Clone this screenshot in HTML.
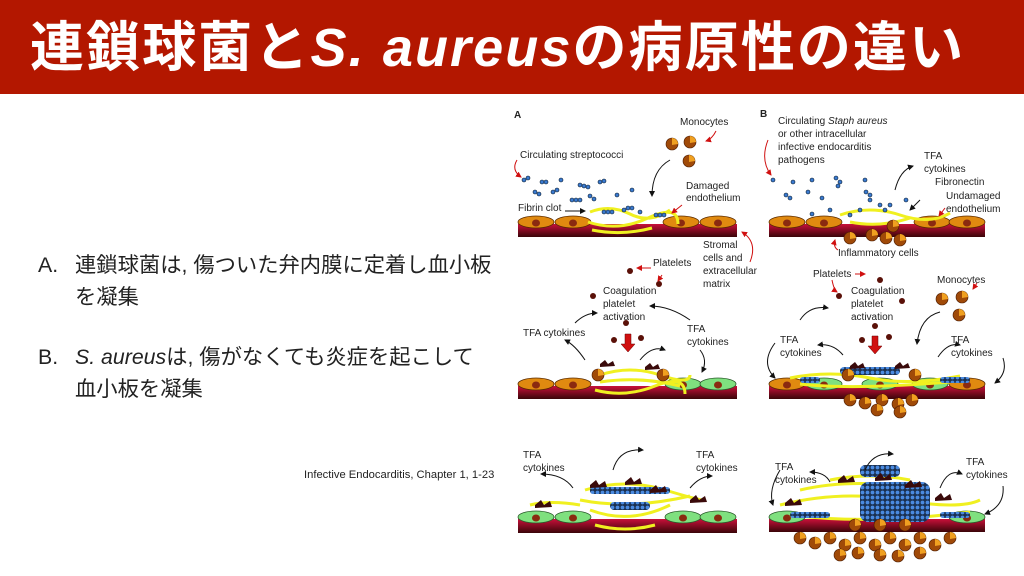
<!DOCTYPE html>
<html><head><meta charset="utf-8">
<style>
html,body{margin:0;padding:0;background:#fff;}
body{width:1024px;height:576px;position:relative;overflow:hidden;font-family:"Liberation Sans","Noto Sans CJK JP",sans-serif;}
#bar{position:absolute;left:0;top:0;width:1024px;height:94px;background:#b31700;}
#title{position:absolute;left:30px;top:8px;width:990px;height:80px;color:#fff;font-weight:bold;font-size:54px;line-height:80px;white-space:nowrap;letter-spacing:2.1px;}
.t{position:absolute;font-size:21.3px;color:#222;line-height:32px;white-space:nowrap;}
#cite{position:absolute;left:304px;top:469px;font-size:11.2px;color:#222;white-space:nowrap;}
svg{position:absolute;left:0;top:0;}
svg text{font-family:"Liberation Sans",sans-serif;font-size:10px;fill:#222;}
</style></head><body>
<div id="bar"></div>
<div id="title">連鎖球菌と<i>S. aureus</i>の病原性の違い</div>
<div class="t" style="left:38px;top:249px">A.</div>
<div class="t" style="left:75px;top:249px">連鎖球菌は, 傷ついた弁内膜に定着し血小板<br>を凝集</div>
<div class="t" style="left:38px;top:341px">B.</div>
<div class="t" style="left:75px;top:341px"><i>S. aureus</i>は, 傷がなくても炎症を起こして<br>血小板を凝集</div>
<div id="cite">Infective Endocarditis, Chapter 1, 1-23</div>
<svg width="1024" height="576" viewBox="0 0 1024 576">
<defs>
<linearGradient id="rg" x1="0" y1="0" x2="0" y2="1"><stop offset="0" stop-color="#c8103a"/><stop offset="1" stop-color="#3a0508"/></linearGradient>
<pattern id="bp" width="5" height="5" patternUnits="userSpaceOnUse"><rect width="5" height="5" fill="#1a3050"/><circle cx="2.5" cy="2.5" r="1.9" fill="#4a8ae0"/></pattern>
<g id="cell"><ellipse cx="0" cy="0" rx="18" ry="6" fill="#e08a10" stroke="#5a2a00" stroke-width="0.8"/><ellipse cx="0" cy="1" rx="4" ry="3.5" fill="#8a2a10"/></g>
<g id="gcell"><ellipse cx="0" cy="0" rx="18" ry="6" fill="#7fe07f" stroke="#2a5a2a" stroke-width="0.8"/><ellipse cx="0" cy="1" rx="4" ry="3.5" fill="#8a2a10"/></g>
<g id="mono"><circle r="6" fill="#a04a08" stroke="#4a1a00" stroke-width="0.6"/><path d="M0,-6 A6,6 0 0 1 6,0 L0,1Z" fill="#f0a020"/></g>
<g id="b"><circle r="2" fill="#3a7ad0" stroke="#123" stroke-width="0.6"/></g>
<marker id="ak" markerWidth="6" markerHeight="6" refX="5" refY="3" orient="auto"><path d="M0,0L6,3L0,6Z" fill="#111"/></marker>
<marker id="ar" markerWidth="6" markerHeight="6" refX="5" refY="3" orient="auto"><path d="M0,0L6,3L0,6Z" fill="#d01010"/></marker>
</defs>
<text x="514" y="118" font-weight="bold">A</text>
<text x="760" y="117" font-weight="bold">B</text>
<g>
<rect x="518" y="224" width="219" height="13" fill="url(#rg)"/>
<use href="#cell" x="536" y="222"/><use href="#cell" x="573" y="222"/><use href="#cell" x="681" y="222"/><use href="#cell" x="718" y="222"/>
<rect x="769" y="224" width="216" height="13" fill="url(#rg)"/>
<use href="#cell" x="787" y="222"/><use href="#cell" x="824" y="222"/><use href="#cell" x="932" y="222"/><use href="#cell" x="967" y="222"/>
<rect x="518" y="386" width="219" height="13" fill="url(#rg)"/>
<use href="#cell" x="536" y="384"/><use href="#cell" x="573" y="384"/><use href="#gcell" x="683" y="384"/><use href="#gcell" x="718" y="384"/>
<rect x="769" y="386" width="216" height="13" fill="url(#rg)"/>
<use href="#cell" x="787" y="384"/><use href="#gcell" x="824" y="384"/><use href="#gcell" x="880" y="384"/><use href="#gcell" x="930" y="384"/><use href="#cell" x="967" y="384"/>
<rect x="518" y="519" width="219" height="14" fill="url(#rg)"/>
<use href="#gcell" x="536" y="517"/><use href="#gcell" x="573" y="517"/><use href="#gcell" x="683" y="517"/><use href="#gcell" x="718" y="517"/>
<rect x="769" y="519" width="216" height="13" fill="url(#rg)"/>
<use href="#gcell" x="787" y="517"/><use href="#gcell" x="967" y="517"/>
</g>
<g fill="none" stroke="#f0f020" stroke-width="3">
<path d="M590,212 q20,-8 40,2 t40,-4 M588,222 q30,10 60,-4 t30,6 M592,230 q30,6 60,-2"/>
<path d="M840,215 q30,-10 60,0 t50,-2 M850,222 q30,6 60,-4"/>
<path d="M600,375 q30,-10 60,0 t30,0 M595,390 q30,8 60,-4 t30,8 M600,382 q40,-6 80,4"/>
<path d="M790,378 q40,-8 80,0 t90,-2 M800,384 q50,6 150,-2"/>
<path d="M585,490 q40,-12 80,0 t40,10 M590,510 q40,15 80,-5 M580,500 q50,10 110,-4 M595,525 q30,8 60,0 M530,505 q20,-5 50,0"/>
<path d="M780,505 q60,-15 120,-5 t80,0 M800,490 q50,-12 120,-2 M790,515 q80,10 180,-3 M830,480 q40,-8 80,0"/>
</g>
<g>
<use href="#b" x="524" y="180"/><use href="#b" x="528" y="178"/><use href="#b" x="542" y="182"/><use href="#b" x="546" y="182"/><use href="#b" x="561" y="180"/>
<use href="#b" x="580" y="185"/><use href="#b" x="584" y="186"/><use href="#b" x="588" y="187"/><use href="#b" x="600" y="182"/><use href="#b" x="604" y="181"/>
<use href="#b" x="535" y="192"/><use href="#b" x="539" y="194"/><use href="#b" x="553" y="192"/><use href="#b" x="557" y="190"/><use href="#b" x="572" y="200"/><use href="#b" x="576" y="200"/><use href="#b" x="580" y="200"/>
<use href="#b" x="590" y="196"/><use href="#b" x="594" y="199"/><use href="#b" x="617" y="195"/><use href="#b" x="632" y="190"/>
<use href="#b" x="604" y="212"/><use href="#b" x="608" y="212"/><use href="#b" x="612" y="212"/><use href="#b" x="624" y="210"/><use href="#b" x="628" y="208"/><use href="#b" x="632" y="208"/><use href="#b" x="640" y="212"/><use href="#b" x="656" y="215"/><use href="#b" x="660" y="215"/><use href="#b" x="664" y="215"/>
<use href="#b" x="773" y="180"/><use href="#b" x="793" y="182"/><use href="#b" x="812" y="180"/><use href="#b" x="786" y="195"/><use href="#b" x="790" y="198"/><use href="#b" x="808" y="192"/><use href="#b" x="822" y="198"/><use href="#b" x="836" y="178"/><use href="#b" x="840" y="182"/><use href="#b" x="838" y="186"/><use href="#b" x="865" y="180"/><use href="#b" x="866" y="192"/><use href="#b" x="870" y="195"/><use href="#b" x="870" y="200"/><use href="#b" x="880" y="205"/><use href="#b" x="885" y="210"/><use href="#b" x="890" y="205"/><use href="#b" x="906" y="200"/><use href="#b" x="860" y="210"/><use href="#b" x="850" y="215"/><use href="#b" x="830" y="210"/><use href="#b" x="812" y="214"/>
</g>
<g fill="url(#bp)">
<rect x="840" y="367" width="60" height="8" rx="4"/>
<rect x="800" y="377" width="20" height="6" rx="3"/><rect x="940" y="377" width="30" height="6" rx="3"/>
<rect x="590" y="487" width="80" height="7" rx="3"/>
<rect x="860" y="465" width="40" height="12" rx="5"/>
<rect x="860" y="482" width="70" height="40" rx="8"/>
<rect x="790" y="512" width="40" height="6" rx="3"/><rect x="940" y="512" width="30" height="6" rx="3"/>
<rect x="610" y="502" width="40" height="8" rx="4"/>
</g>
<use href="#mono" x="672" y="144"/><use href="#mono" x="690" y="142"/><use href="#mono" x="689" y="161"/>
<use href="#mono" x="942" y="299"/><use href="#mono" x="962" y="297"/><use href="#mono" x="959" y="315"/>
<use href="#mono" x="598" y="375"/><use href="#mono" x="663" y="375"/>
<use href="#mono" x="848" y="375"/><use href="#mono" x="915" y="375"/>
<use href="#mono" x="850" y="238"/><use href="#mono" x="872" y="235"/><use href="#mono" x="886" y="238"/><use href="#mono" x="900" y="240"/><use href="#mono" x="893" y="226"/>
<g>
<use href="#mono" x="850" y="400"/><use href="#mono" x="865" y="403"/><use href="#mono" x="882" y="400"/><use href="#mono" x="898" y="404"/><use href="#mono" x="912" y="400"/><use href="#mono" x="877" y="410"/><use href="#mono" x="900" y="412"/>
<use href="#mono" x="800" y="538"/><use href="#mono" x="815" y="543"/><use href="#mono" x="830" y="538"/><use href="#mono" x="845" y="545"/><use href="#mono" x="860" y="538"/><use href="#mono" x="875" y="545"/><use href="#mono" x="890" y="538"/><use href="#mono" x="905" y="545"/><use href="#mono" x="920" y="538"/><use href="#mono" x="935" y="545"/><use href="#mono" x="950" y="538"/>
<use href="#mono" x="840" y="555"/><use href="#mono" x="858" y="553"/><use href="#mono" x="880" y="555"/><use href="#mono" x="898" y="556"/><use href="#mono" x="920" y="553"/>
<use href="#mono" x="855" y="525"/><use href="#mono" x="880" y="525"/><use href="#mono" x="905" y="525"/>
</g>
<g fill="#5a1008">
<circle cx="630" cy="271" r="3"/><circle cx="659" cy="284" r="3"/><circle cx="593" cy="296" r="3"/><circle cx="626" cy="323" r="3"/><circle cx="614" cy="340" r="3"/><circle cx="641" cy="338" r="3"/>
<circle cx="880" cy="280" r="3"/><circle cx="839" cy="296" r="3"/><circle cx="902" cy="301" r="3"/><circle cx="875" cy="326" r="3"/><circle cx="862" cy="340" r="3"/><circle cx="889" cy="337" r="3"/>
</g>
<path d="M625,334h6v10h4l-7,8l-7,-8h4z" fill="#d01010" stroke="#600" stroke-width="0.5"/>
<path d="M872,336h6v10h4l-7,8l-7,-8h4z" fill="#d01010" stroke="#600" stroke-width="0.5"/>
<g fill="#3a0a0a">
<path d="M600,364l5,-4 3,4 5,-3 2,5 -15,1z"/><path d="M645,367l5,-4 3,4 5,-3 2,5 -15,1z"/>
<path d="M850,366l5,-4 3,4 5,-3 2,5 -15,1z"/><path d="M895,366l5,-4 3,4 5,-3 2,5 -15,1z"/>
<path d="M590,485l6,-5 3,5 6,-4 2,6 -17,1z"/><path d="M625,482l6,-5 3,5 6,-4 2,6 -17,1z"/><path d="M650,490l6,-5 3,5 6,-4 2,6 -17,1z"/><path d="M535,505l6,-5 3,5 6,-4 2,6 -17,1z"/><path d="M690,500l6,-5 3,5 6,-4 2,6 -17,1z"/>
<path d="M838,480l6,-5 3,5 6,-4 2,6 -17,1z"/><path d="M875,478l6,-5 3,5 6,-4 2,6 -17,1z"/><path d="M905,485l6,-5 3,5 6,-4 2,6 -17,1z"/><path d="M785,503l6,-5 3,5 6,-4 2,6 -17,1z"/><path d="M935,498l6,-5 3,5 6,-4 2,6 -17,1z"/>
</g>
<g fill="none" stroke="#111" stroke-width="1" marker-end="url(#ak)">
<path d="M670,160 q-18,10 -18,36"/>
<path d="M565,211 h20"/>
<path d="M895,190 q5,-20 18,-24"/>
<path d="M920,200 l-10,10"/>
<path d="M585,360 q-10,-15 -20,-20"/>
<path d="M575,323 q10,-10 22,-10"/>
<path d="M640,360 q12,-15 25,-10"/>
<path d="M690,320 q-20,-14 -40,-14"/>
<path d="M700,350 q8,10 2,22"/>
<path d="M843,355 q-10,-12 -25,-10"/>
<path d="M800,320 q10,-15 28,-12"/>
<path d="M775,343 q-15,20 0,35"/>
<path d="M938,357 q10,-15 22,-12"/>
<path d="M940,312 q-20,5 -23,32"/>
<path d="M1003,358 q5,15 -8,25"/>
<path d="M573,488 q-10,-14 -32,-14"/>
<path d="M613,470 q6,-22 30,-20"/>
<path d="M690,488 q10,-12 22,-12"/>
<path d="M780,470 q-12,20 -7,35"/>
<path d="M830,482 q-5,-10 -20,-10"/>
<path d="M865,470 q8,-18 28,-16"/>
<path d="M940,488 q8,-20 22,-14"/>
<path d="M1003,486 q2,20 -18,28"/>
</g>
<g fill="none" stroke="#d01010" stroke-width="1" marker-end="url(#ar)">
<path d="M517,160 q-6,10 4,17"/><path d="M716,131 q-4,8 -10,10"/><path d="M682,205 l-10,8"/>
<path d="M768,140 q-8,20 3,35"/><path d="M945,208 l-6,8"/><path d="M838,250 q-5,-3 -3,-10"/>
<path d="M651,268 h-14"/><path d="M662,275 l-4,6"/><path d="M750,262 q8,-20 -8,-30"/>
<path d="M855,274 h10"/><path d="M832,280 q2,10 5,12"/><path d="M977,283 l-4,6"/>
</g>
<text x="680" y="125">Monocytes</text>
<text x="520" y="158">Circulating streptococci</text>
<text x="686" y="189">Damaged</text><text x="686" y="201">endothelium</text>
<text x="518" y="211">Fibrin clot</text>
<text x="703" y="248">Stromal</text><text x="703" y="261">cells and</text><text x="703" y="274">extracellular</text><text x="703" y="287">matrix</text>
<text x="778" y="124">Circulating <tspan font-style="italic">Staph aureus</tspan></text>
<text x="778" y="137">or other intracellular</text>
<text x="778" y="150">infective endocarditis</text>
<text x="778" y="163">pathogens</text>
<text x="924" y="159">TFA</text><text x="924" y="172">cytokines</text>
<text x="935" y="185">Fibronectin</text>
<text x="946" y="199">Undamaged</text><text x="946" y="212">endothelium</text>
<text x="838" y="256">Inflammatory cells</text>
<text x="653" y="266">Platelets</text>
<text x="603" y="294">Coagulation</text><text x="603" y="307">platelet</text><text x="603" y="320">activation</text>
<text x="523" y="336">TFA cytokines</text>
<text x="687" y="332">TFA</text><text x="687" y="345">cytokines</text>
<text x="813" y="277">Platelets</text>
<text x="851" y="294">Coagulation</text><text x="851" y="307">platelet</text><text x="851" y="320">activation</text>
<text x="937" y="283">Monocytes</text>
<text x="780" y="343">TFA</text><text x="780" y="356">cytokines</text>
<text x="951" y="343">TFA</text><text x="951" y="356">cytokines</text>
<text x="523" y="458">TFA</text><text x="523" y="471">cytokines</text>
<text x="696" y="458">TFA</text><text x="696" y="471">cytokines</text>
<text x="775" y="470">TFA</text><text x="775" y="483">cytokines</text>
<text x="966" y="465">TFA</text><text x="966" y="478">cytokines</text>
</svg>
</body></html>
